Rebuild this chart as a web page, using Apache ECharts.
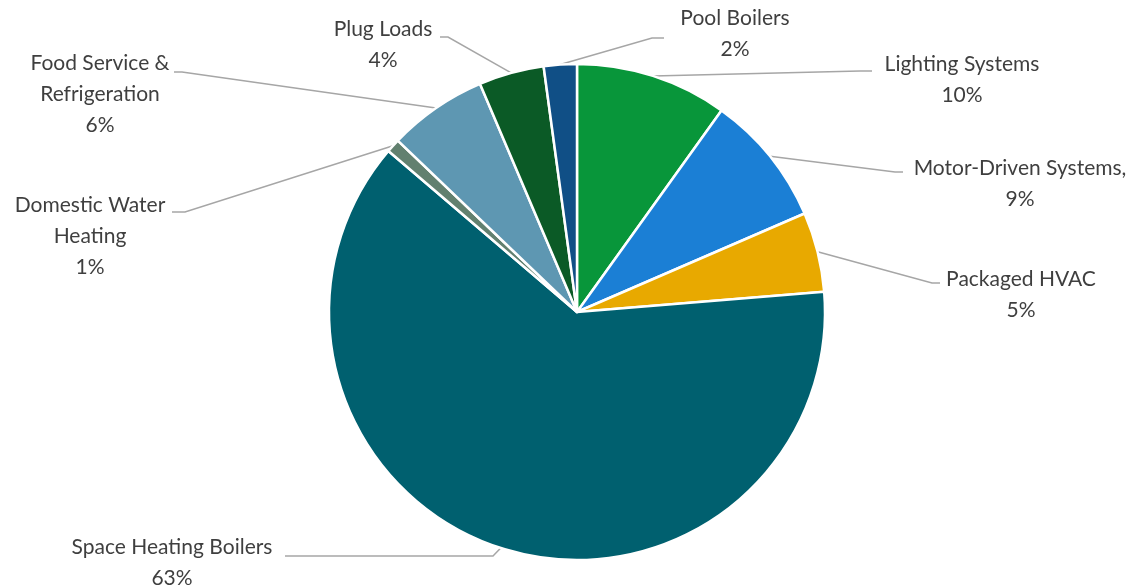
<!DOCTYPE html>
<html>
<head>
<meta charset="utf-8">
<script src="https://cdn.jsdelivr.net/npm/echarts@6/dist/echarts.min.js"></script>
<style>
  html, body { margin: 0; background: #fff; }
  #pie { width: 1136px; height: 588px; }
</style>
</head>
<body>
<div id="pie"></div>
<script>
// slices, clockwise from 12 o'clock
var categories = ['Lighting Systems', 'Motor-Driven Systems,', 'Packaged HVAC', 'Space Heating Boilers',
  'Domestic Water\nHeating', 'Food Service &\nRefrigeration', 'Plug Loads', 'Pool Boilers'];
var shares = [9.9, 8.6, 5.2, 62.55, 0.9, 6.45, 4.25, 2.15];
var colors = ['#08963a', '#1b7fd5', '#e8a900', '#00606f', '#62806f', '#5e97b2', '#0b5a26', '#104f86'];

// where each label sits: [text centre x, text centre y, elbow x, elbow y, line end x]
var labelSpots = [
  [962, 80, 860, 71, 872],
  [1020, 184, 895, 172, 903],
  [1021, 295, 932, 283, 940],
  [172, 563, 493, 556, 285],
  [90, 236, 185, 212, 172],
  [100, 94, 182, 72, 174],
  [383, 45, 448, 37, 440],
  [735, 34, 652, 38, 664]
];

var chart = echarts.init(document.getElementById('pie'));

chart.setOption({
  animation: false,
  backgroundColor: '#fff',
  series: [{
    type: 'pie',
    center: [577, 312],
    radius: 248,
    startAngle: 90,
    clockwise: true,
    avoidLabelOverlap: false,
    data: categories.map(function (c, i) {
      return { name: c, value: shares[i], itemStyle: { color: colors[i] } };
    }),
    itemStyle: { borderColor: '#fff', borderWidth: 2.5 },
    label: {
      show: true,
      position: 'outside',
      color: '#3f3f3f',
      fontFamily: 'Lato',
      fontSize: 21,
      lineHeight: 31,
      align: 'center',
      formatter: function (p) {
        return p.name + '\n' + Math.round(p.percent) + '%';
      }
    },
    labelLine: {
      show: true,
      lineStyle: { color: '#a6a6a6', width: 1.5 }
    },
    // pin labels where the reference has them
    labelLayout: function (params) {
      var s = labelSpots[params.dataIndex];
      var start = params.labelLinePoints ? params.labelLinePoints[0] : [s[2], s[3]];
      return {
        x: s[0],
        y: s[1],
        align: 'center',
        verticalAlign: 'middle',
        labelLinePoints: [start, [s[2], s[3]], [s[4], s[3]]]
      };
    },
    emphasis: { disabled: true }
  }]
});
</script>
</body>
</html>
